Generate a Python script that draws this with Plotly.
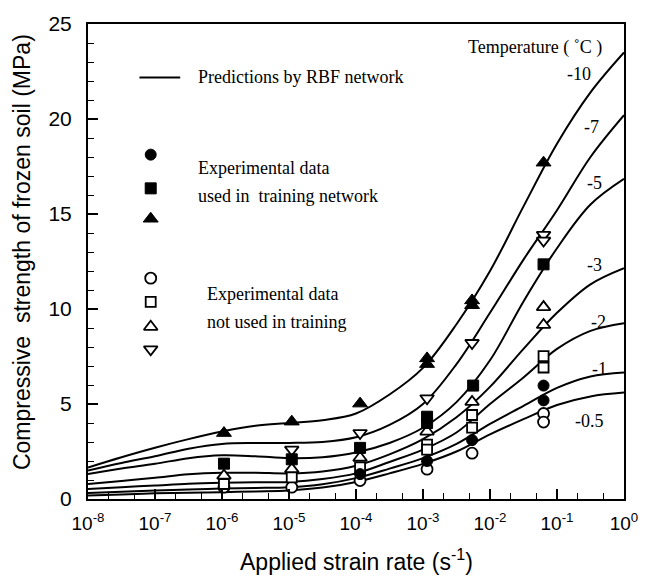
import numpy as np
import plotly.graph_objects as go

# ---------------- data ----------------
curve_logx = [-8, -7.5, -7, -6.5, -6, -5.5, -5, -4.5, -4, -3.5, -3, -2.5, -2, -1.5, -1, -0.5, 0]
curve_temps = ["-10", "-7", "-5", "-3", "-2", "-1", "-0.5"]
curve_m10 = [1.66, 2.2, 2.7, 3.15, 3.55, 3.85, 4.0, 4.15, 4.5, 5.5, 6.9, 9.2, 12.0, 15.4, 18.7, 21.4, 23.5]
curve_m7 = [1.5, 1.9, 2.25, 2.65, 2.9, 2.95, 2.95, 3.0, 3.25, 3.9, 5.0, 7.1, 9.8, 12.6, 15.2, 18.0, 20.2]
curve_m5 = [1.31, 1.6, 1.85, 2.15, 2.3, 2.25, 2.15, 2.2, 2.45, 2.95, 3.75, 5.1, 7.3, 10.4, 13.2, 15.5, 16.85]
curve_m3 = [0.79, 0.95, 1.12, 1.3, 1.38, 1.38, 1.35, 1.45, 1.75, 2.35, 3.15, 4.3, 5.9, 7.9, 9.8, 11.3, 12.15]
curve_m2 = [0.53, 0.62, 0.71, 0.8, 0.85, 0.88, 0.9, 1.05, 1.35, 1.95, 2.6, 3.5, 5.0, 6.4, 7.9, 8.85, 9.25]
curve_m1 = [0.31, 0.38, 0.45, 0.5, 0.55, 0.58, 0.62, 0.78, 1.1, 1.6, 2.15, 2.9, 3.95, 4.9, 5.85, 6.45, 6.66]
curve_m05 = [0.19, 0.24, 0.3, 0.33, 0.36, 0.4, 0.45, 0.6, 0.9, 1.35, 1.85, 2.5, 3.4, 4.2, 4.95, 5.4, 5.6]

# experimental points
tri_f_x = [1.07e-6, 1.1e-5, 1.15e-4, 1.15e-3, 1.15e-3, 5.4e-3, 5.4e-3, 6.3e-2]
tri_f_y = [3.47, 4.07, 5.02, 7.4, 7.1, 10.45, 10.2, 17.7]
sq_f_x = [1.07e-6, 1.1e-5, 1.15e-4, 1.15e-3, 1.15e-3, 5.6e-3, 6.3e-2]
sq_f_y = [1.86, 2.09, 2.69, 4.33, 4.0, 5.97, 12.35]
circ_f_x = [1.15e-4, 1.15e-3, 5.4e-3, 6.3e-2, 6.3e-2]
circ_f_y = [1.31, 2.0, 3.1, 5.97, 5.19]
tri_o_x = [1.07e-6, 1.1e-5, 1.15e-4, 1.15e-3, 5.4e-3, 6.3e-2, 6.3e-2]
tri_o_y = [1.23, 1.57, 2.17, 3.55, 5.11, 10.1, 9.16]
sq_o_x = [1.07e-6, 1.1e-5, 1.15e-4, 1.15e-3, 1.15e-3, 5.4e-3, 5.4e-3, 6.3e-2, 6.3e-2]
sq_o_y = [0.79, 1.14, 1.66, 2.86, 2.6, 4.42, 3.76, 7.52, 6.92]
circ_o_x = [1.07e-6, 1.1e-5, 1.15e-4, 1.15e-3, 5.4e-3, 6.3e-2, 6.3e-2]
circ_o_y = [0.62, 0.62, 0.97, 1.57, 2.41, 4.5, 4.05]
tri_d_x = [1.1e-5, 1.15e-4, 1.15e-3, 5.4e-3, 6.3e-2, 6.3e-2]
tri_d_y = [2.6, 3.47, 5.3, 8.21, 13.9, 13.6]

x_tickvals = [1e-8, 1e-7, 1e-6, 1e-5, 1e-4, 1e-3, 1e-2, 1e-1, 1e0]
x_ticktext = ["10<sup>-8</sup>", "10<sup>-7</sup>", "10<sup>-6</sup>", "10<sup>-5</sup>",
              "10<sup>-4</sup>", "10<sup>-3</sup>", "10<sup>-2</sup>", "10<sup>-1</sup>", "10<sup>0</sup>"]
y_tickvals = [0, 5, 10, 15, 20, 25]

# ---------------- figure ----------------
fig = go.Figure()
cx = [10 ** v for v in curve_logx]
for ys in [curve_m10, curve_m7, curve_m5, curve_m3, curve_m2, curve_m1, curve_m05]:
    fig.add_trace(go.Scatter(x=cx, y=ys, mode="lines", line=dict(color="black", width=2, shape="spline"),
                             showlegend=False, hoverinfo="skip"))

def pts(x, y, symbol, size, filled):
    return go.Scatter(x=x, y=y, mode="markers", showlegend=False, hoverinfo="skip",
                      marker=dict(symbol=symbol, size=size,
                                  color="black" if filled else "white",
                                  line=dict(color="black", width=1 if filled else 1.8)))

fig.add_trace(pts(circ_o_x, circ_o_y, "circle", 11, False))
fig.add_trace(pts(sq_o_x, sq_o_y, "square", 10, False))
fig.add_trace(pts(tri_o_x, tri_o_y, "triangle-up", 12, False))
fig.add_trace(pts(tri_d_x, tri_d_y, "triangle-down", 12, False))
fig.add_trace(pts(circ_f_x, circ_f_y, "circle", 11, True))
fig.add_trace(pts(sq_f_x, sq_f_y, "square", 11, True))
fig.add_trace(pts(tri_f_x, tri_f_y, "triangle-up", 13, True))

# legend glyphs on an overlay axis (0..1 in plot-area fractions)
leg_sym = [("circle", True, 0.725, 11), ("square", True, 0.654, 11), ("triangle-up", True, 0.59, 13),
           ("circle", False, 0.465, 11), ("square", False, 0.415, 10), ("triangle-up", False, 0.3625, 12),
           ("triangle-down", False, 0.315, 12)]
for sym, filled, yy, sz in leg_sym:
    fig.add_trace(go.Scatter(x=[0.117], y=[yy], xaxis="x2", yaxis="y2", mode="markers",
                             showlegend=False, hoverinfo="skip",
                             marker=dict(symbol=sym, size=sz, color="black" if filled else "white",
                                         line=dict(color="black", width=1 if filled else 1.8))))
fig.add_trace(go.Scatter(x=[0.096, 0.172], y=[0.8875, 0.8875], xaxis="x2", yaxis="y2", mode="lines",
                         line=dict(color="black", width=2), showlegend=False, hoverinfo="skip"))

serif = dict(family="Liberation Serif, Times New Roman, serif", size=18, color="black")
ann = [
    ("Predictions by RBF network", 0.202, 0.8875, "left"),
    ("Experimental data", 0.202, 0.696, "left"),
    ("used in  training network", 0.202, 0.6375, "left"),
    ("Experimental data", 0.219, 0.431, "left"),
    ("not used in training", 0.219, 0.373, "left"),
    ("Temperature ( \u02daC )", 0.963, 0.95, "right"),
]
annotations = [dict(text=t, x=x, y=y, xref="paper", yref="paper", xanchor=a, yanchor="middle",
                    showarrow=False, font=serif) for t, x, y, a in ann]
lab_pos = [(0.943, 0.894), (0.957, 0.783), (0.963, 0.665), (0.963, 0.492), (0.970, 0.373), (0.972, 0.273), (0.967, 0.165)]
for t, (x, y) in zip(curve_temps, lab_pos):
    annotations.append(dict(text=t, x=x, y=y, xref="paper", yref="paper", xanchor="right", yanchor="middle",
                            showarrow=False, font=serif))
sans = dict(family="Liberation Sans, Arial, sans-serif", size=23, color="black")
annotations.append(dict(text="Applied strain rate (s<sup>-1</sup>)", x=0.5, y=-0.128, xref="paper", yref="paper",
                        xanchor="center", yanchor="middle", showarrow=False, font=sans))
annotations.append(dict(text="Compressive  strength of frozen soil (MPa)", x=-0.122, y=0.519, xref="paper",
                        yref="paper", xanchor="center", yanchor="middle", textangle=-90, showarrow=False, font=sans))

fig.update_layout(
    width=650, height=581,
    margin=dict(l=88, r=22, t=19, b=82),
    paper_bgcolor="white", plot_bgcolor="white",
    annotations=annotations,
    xaxis=dict(type="log", range=[-8, 0], tickvals=x_tickvals, ticktext=x_ticktext,
               ticks="inside", ticklen=10, tickwidth=1.5, tickcolor="black",
               minor=dict(ticks="inside", ticklen=6, tickwidth=1, tickcolor="black", showgrid=False),
               showline=True, linecolor="black", linewidth=2, mirror=True, showgrid=False, zeroline=False,
               tickfont=dict(family="Liberation Sans, Arial, sans-serif", size=19, color="black"),
               ticklabelstandoff=6),
    yaxis=dict(range=[0, 25], tickvals=y_tickvals, ticks="inside", ticklen=10, tickwidth=1.5, tickcolor="black",
               minor=dict(ticks="inside", ticklen=6, tickwidth=1, tickcolor="black", dtick=1, showgrid=False),
               showline=True, linecolor="black", linewidth=2, mirror=True, showgrid=False, zeroline=False,
               tickfont=dict(family="Liberation Sans, Arial, sans-serif", size=21, color="black"),
               ticklabelstandoff=10),
    xaxis2=dict(range=[0, 1], overlaying="x", visible=False),
    yaxis2=dict(range=[0, 1], overlaying="y", visible=False),
)

fig.write_html("out.html")
